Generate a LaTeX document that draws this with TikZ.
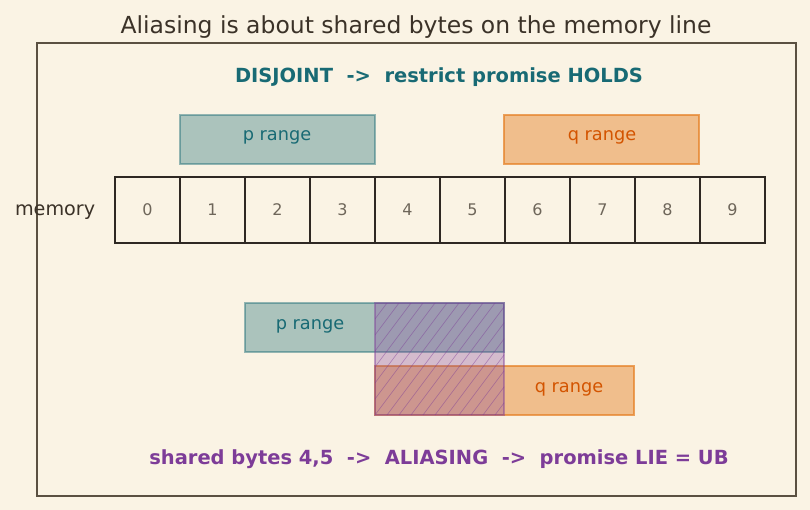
\documentclass[tikz,border=0pt]{standalone}
\usepackage{fontspec}
\setmainfont{DejaVu Sans}
\usetikzlibrary{positioning}
\definecolor{paper}{RGB}{250,243,228}
\definecolor{ink}{RGB}{59,50,40}
\definecolor{frameline}{RGB}{90,80,65}
\definecolor{cellline}{RGB}{46,40,35}
\definecolor{digit}{RGB}{110,102,90}
\definecolor{pteal}{RGB}{24,106,116}
\definecolor{qorange}{RGB}{230,126,34}
\definecolor{qtext}{RGB}{211,84,0}
\definecolor{aliaspurple}{RGB}{125,60,152}
\def\pxu{0.75pt}
\tikzset{
  cell/.style   ={rectangle, draw=cellline, line width=1.6pt, minimum width=65*\pxu,
    minimum height=66*\pxu, inner sep=0pt, text=digit, font=\fontsize{12}{14}\selectfont},
  prange/.style ={rectangle, draw=pteal, draw opacity=.45, fill=pteal, fill opacity=.35,
    line width=1.5pt, minimum height=49*\pxu, inner sep=0pt},
  qrange/.style ={rectangle, draw=qorange, draw opacity=.7, fill=qorange, fill opacity=.45,
    line width=1.5pt, minimum height=49*\pxu, inner sep=0pt},
  plabel/.style ={text=pteal, font=\fontsize{13.3}{15}\selectfont},
  qlabel/.style ={text=qtext, font=\fontsize{13.3}{15}\selectfont},
  verdict/.style={font=\bfseries\fontsize{14.6}{17}\selectfont},
  overlap/.style={draw=aliaspurple, draw opacity=.45, fill=aliaspurple, fill opacity=.3, line width=1.2pt},
  hatch/.style  ={draw=aliaspurple, opacity=.45, line width=.5pt}
}
\begin{document}
\begin{tikzpicture}[x=0.75pt,y=-0.75pt]
\fill[paper] (0,0) rectangle (810,510);
\useasboundingbox (0,0) rectangle (810,510);
\node[text=ink, font=\fontsize{17.6}{20}\selectfont] (title) at (416,27) {Aliasing is about shared bytes on the memory line};
\draw[frameline, line width=1.1pt] (37,43) rectangle (796,496);
\node[verdict, text=pteal] (holds) at (439,77) {DISJOINT\ \ ->\ \ restrict promise HOLDS};
% top: disjoint ranges
\node[prange, minimum width=195*\pxu] (ptop) at (277.5,139.5) {};
\node[plabel] (ptop-lbl) at (277,137) {p range};
\node[qrange, minimum width=195*\pxu] (qtop) at (601.5,139.5) {};
\node[qlabel] (qtop-lbl) at (602,137) {q range};
% memory line
\foreach \i in {0,...,9}
  \node[cell] (cell-\i) at (147.5+65*\i,210) {\i};
\node[text=ink, font=\fontsize{14.4}{17}\selectfont, left=10.5pt of cell-0, yshift=-1.5pt] (memory) {memory};
% bottom: overlapping ranges
\node[prange, minimum width=259*\pxu] (pbot) at (374.5,327.5) {};
\node[plabel] (pbot-lbl) at (310,326) {p range};
\node[qrange, minimum width=259*\pxu] (qbot) at (504.5,390.5) {};
\node[qlabel] (qbot-lbl) at (569,389) {q range};
\path[overlap] (375,303) rectangle (504,415);
\begin{scope}
  \clip (375,303) rectangle (504,415);
  \foreach \k in {0,...,18}
    \draw[hatch] (291+12*\k,415) -- ++(84,-112);
\end{scope}
\node[verdict, text=aliaspurple] (ub) at (439,459) {shared bytes 4,5\ \ ->\ \ ALIASING\ \ ->\ \ promise LIE = UB};
\end{tikzpicture}
\end{document}
